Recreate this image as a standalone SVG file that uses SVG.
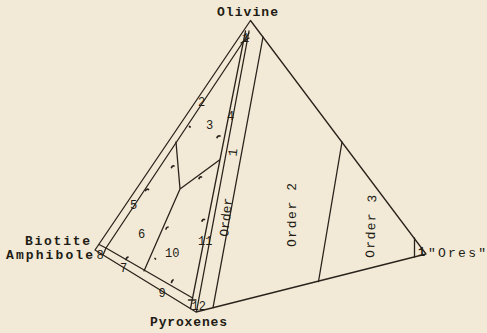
<svg xmlns="http://www.w3.org/2000/svg" width="487" height="333" viewBox="0 0 487 333">
<style>
.ln{fill:none;stroke:#2a231b;stroke-width:1.3;stroke-linecap:round;stroke-linejoin:round}
.tk{fill:none;stroke:#2a231b;stroke-width:1.7;stroke-linecap:round}
.t{font-family:"Liberation Mono","DejaVu Sans Mono",monospace;font-size:13px;fill:#221c15}
.b{font-weight:bold}
.n{font-family:"Liberation Mono","DejaVu Sans Mono",monospace;font-size:12px;fill:#221c15}
</style>
<rect width="487" height="333" fill="#f2ead7"/>
<g id="connectors">
<path class="ln" d="M250.5,20.5 L95,250 L196,312 L426,254 Z"/>
<path class="ln" d="M414.5,238 L414.5,257"/>
<path class="ln" d="M342,142 L318.5,281.5"/>
<path class="ln" d="M263,37 L213,307.7"/>
<path class="ln" d="M245.5,31 L190.5,308.5"/>
<path class="ln" d="M249,31 L196.5,311.5"/>
<path class="ln" d="M249,33 L106,248 L192.6,298"/>
<path class="ln" d="M99,244.5 L106,248 L103,255"/>
<path class="ln" d="M241,43 L249,38"/>
<path class="ln" d="M188.5,300 L196,300"/>
<path class="ln" d="M176,142 L180,189 L219.5,160 M180,189 L144,271"/>
</g>
<g id="ticks">
<path class="tk" d="M189.5,126.5 l0.6,0.5 M217,137.5 q1,-2 3,-1.5 M171.5,167.5 q1,-2 2.5,-1.5 M145.5,190.5 q1.5,-2 3,-1 M199,178.5 q1,-2 2.5,-1.5 M166,229 q0.5,-2 2,-2 M202,221 q1,-2 2.5,-1.5 M126,259.5 q0.5,-2 2,-2.5 M171.5,282.5 q0.5,-2 1.5,-2.5 M155,258.5 l0.5,0.5"/>
</g>
<g id="olivine"><text class="t b" x="217" y="16" textLength="61" lengthAdjust="spacing">Olivine</text></g>
<g id="biotite"><text class="t b" x="25" y="245" textLength="65" lengthAdjust="spacing">Biotite</text><text class="t b" x="6" y="259" textLength="87" lengthAdjust="spacing">Amphibole</text></g>
<g id="pyroxenes"><text class="t b" x="150" y="326" textLength="77" lengthAdjust="spacing">Pyroxenes</text></g>
<g id="ores"><text class="n" x="418" y="256" font-size="9" font-weight="bold">1</text><text class="t" x="428" y="256.5" textLength="58" lengthAdjust="spacing">"Ores"</text></g>
<g id="order1"><text class="t" font-size="14" transform="translate(228,237) rotate(-84)">Order <tspan dx="34">1</tspan></text></g>
<g id="order2"><text class="t" font-size="14" transform="translate(296,247) rotate(-90)" textLength="64" lengthAdjust="spacing">Order 2</text></g>
<g id="order3"><text class="t" font-size="14" transform="translate(374,258) rotate(-88)" textLength="63" lengthAdjust="spacing">Order 3</text></g>
<g id="regions">
<text class="n" x="242" y="42" font-size="8">1</text>
<text class="n" x="198" y="106" font-size="11">2</text>
<text class="n" x="206" y="128.5">3</text>
<text class="n" x="227" y="120" font-size="9">4</text>
<text class="n" x="130" y="208.5" font-size="11">5</text>
<text class="n" x="138" y="238">6</text>
<text class="n" x="120" y="272" font-size="10">7</text>
<text class="n" x="96.5" y="258.5">8</text>
<text class="n" x="158.5" y="297">9</text>
<text class="n" x="165" y="257">10</text>
<text class="n" x="198" y="245">11</text>
<text class="n" x="191.5" y="309.5">12</text>
</g>
</svg>
